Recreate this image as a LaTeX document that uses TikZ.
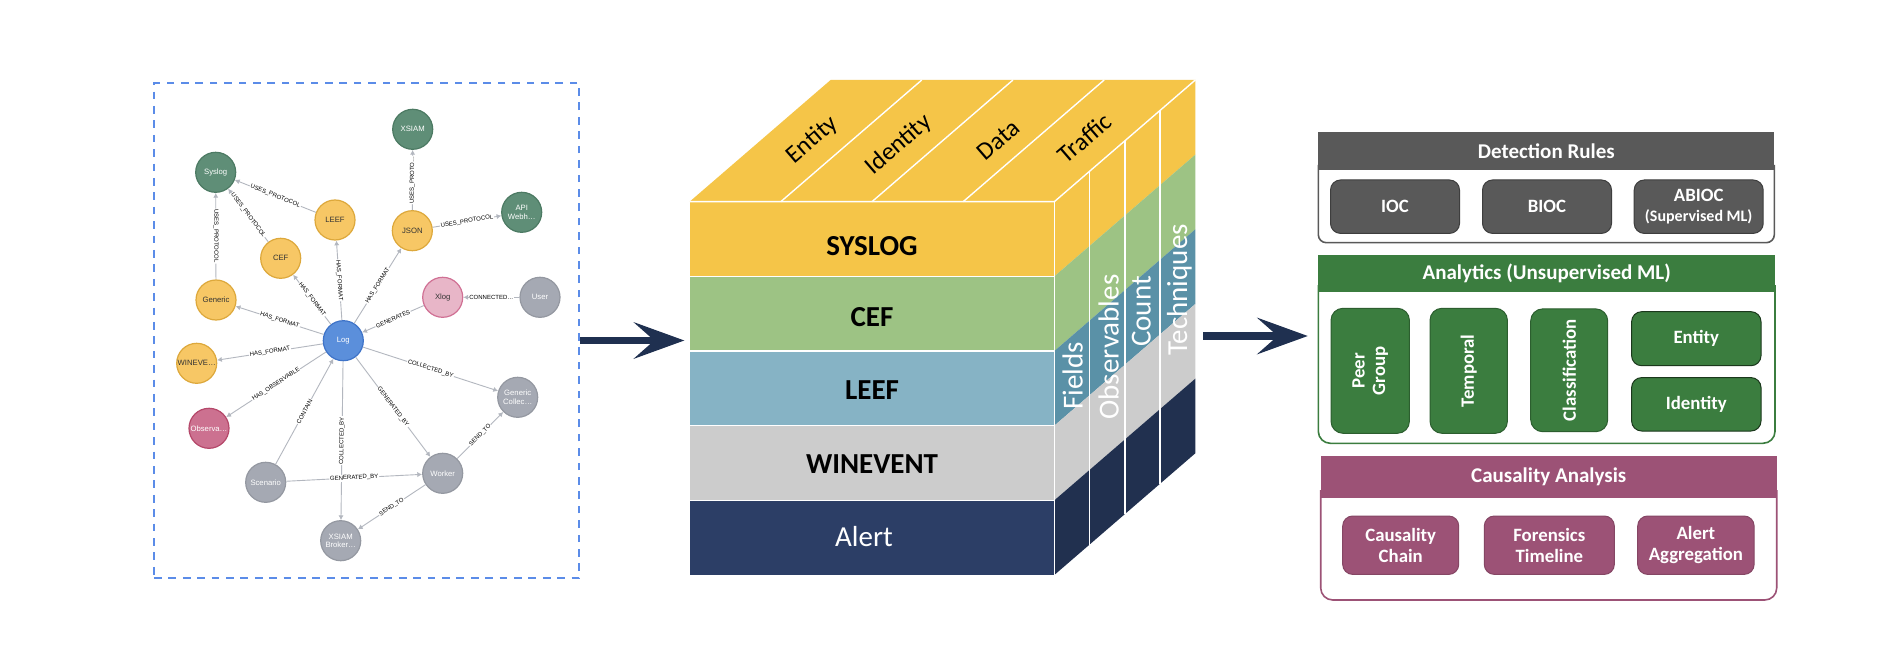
\documentclass[tikz,border=0pt]{standalone}
\usepackage{fontspec}
\setmainfont{Carlito}
\newfontfamily\graphfont{Liberation Sans}
\usetikzlibrary{arrows.meta}

\definecolor{frameblue}{HTML}{5B8CE8}
\definecolor{edgegray}{HTML}{B3B7BF}
\definecolor{textdark}{HTML}{333333}
\definecolor{nodegreen}{HTML}{5F8E77}
\definecolor{nodegreenline}{HTML}{4C7A63}
\definecolor{nodeyellow}{HTML}{F7C765}
\definecolor{nodeyellowline}{HTML}{DDA83B}
\definecolor{nodeblue}{HTML}{5B8FDB}
\definecolor{nodeblueline}{HTML}{3E73C8}
\definecolor{nodepink}{HTML}{E8B6C8}
\definecolor{nodepinkline}{HTML}{D07094}
\definecolor{nodegray}{HTML}{A5A9B3}
\definecolor{nodegrayline}{HTML}{9498A1}
\definecolor{nodered}{HTML}{CC7190}
\definecolor{noderedline}{HTML}{B5486A}
\definecolor{fmtyellow}{HTML}{F5C548}
\definecolor{fmtgreen}{HTML}{9DC384}
\definecolor{fmtblue}{HTML}{86B3C5}
\definecolor{fmtblueside}{HTML}{5A91A7}
\definecolor{fmtgray}{HTML}{CCCCCC}
\definecolor{fmtnavy}{HTML}{2C3E66}
\definecolor{fmtnavyside}{HTML}{21304F}
\definecolor{arrownavy}{HTML}{1F3050}
\definecolor{rulesgray}{HTML}{595959}
\definecolor{analyticsgreen}{HTML}{3B7D3F}
\definecolor{causalplum}{HTML}{9C5276}

\begin{document}
\begin{tikzpicture}[
		x=0.5pt, y=-0.5pt,
		gnode/.style={circle, draw, line width=0.6pt, minimum size=20pt, inner sep=0pt, align=center,
				font=\graphfont\fontsize{3.85}{4.2}\selectfont},
		protocol/.style={gnode, fill=nodegreen, draw=nodegreenline, text=white},
		format/.style={gnode, fill=nodeyellow, draw=nodeyellowline, text=textdark},
		logn/.style={gnode, fill=nodeblue, draw=nodeblueline, text=white},
		source/.style={gnode, fill=nodepink, draw=nodepinkline, text=textdark},
		actor/.style={gnode, fill=nodegray, draw=nodegrayline, text=white},
		observable/.style={gnode, fill=nodered, draw=noderedline, text=white},
		rel/.style={draw=edgegray, line width=0.45pt, -{Latex[length=2.4pt,width=2.6pt]}},
		rellabel/.style={sloped, midway, fill=white, inner sep=0.4pt, text=black,
				font=\graphfont\fontsize{3}{3.5}\selectfont},
		bigarrow/.style={draw=arrownavy, line width=3.9pt,
				-{Stealth[length=25.5pt,width=18.5pt,inset=10.5pt,line width=0pt]}},
		cubeline/.style={draw=white, line width=0.7pt},
		rowlabel/.style={font=\bfseries\fontsize{14.5}{17}\selectfont},
		toplabel/.style={font=\fontsize{12.5}{15}\selectfont, rotate=40.8},
		sidelabel/.style={font=\fontsize{14.5}{17}\selectfont, text=white, rotate=90},
		panelhead/.style={text=white, inner sep=0pt, font=\bfseries\fontsize{10.5}{12}\selectfont},
		panelbox/.style={rounded corners=5pt, text=white, align=center, inner sep=1pt, line width=0.5pt,
				font=\bfseries\fontsize{9.4}{10.3}\selectfont}
	]
	\useasboundingbox (0,0) rectangle (1904,652);
	\fill[white] (0,0) rectangle (1904,652);

	% graph of log formats
	\node[draw=frameblue, line width=1pt, dash pattern=on 3.85pt off 3.35pt,
		minimum width=212.5pt, minimum height=247.5pt] (graphframe) at (366.5,330.5) {};
	\node[protocol] (syslog) at (215.7,172.3) {Syslog};
	\node[protocol] (xsiam) at (412.7,129.3) {XSIAM};
	\node[protocol] (api) at (521.7,212.3) {API\\Webh…};
	\node[format] (leef) at (335,220) {LEEF};
	\node[format] (json) at (412.3,230.7) {JSON};
	\node[format] (cef) at (280.7,258.3) {CEF};
	\node[format] (generic) at (216,300) {Generic};
	\node[format] (winevent) at (196.7,363.3) {WINEVE…};
	\node[source] (xlog) at (442.7,297.3) {Xlog};
	\node[actor] (user) at (540,297.3) {User};
	\node[logn] (log) at (343.3,340.7) {Log};
	\node[observable] (observa) at (209,428.3) {Observa…};
	\node[actor] (collector) at (517.7,397.3) {Generic\\Collec…};
	\node[actor] (scenario) at (265.7,482.3) {Scenario};
	\node[actor] (worker) at (442.7,473.3) {Worker};
	\node[actor] (broker) at (340.7,540.7) {XSIAM\\Broker…};

	\foreach \from/\to/\txt in {
			leef/syslog/USES\_PROTOCOL, cef/syslog/USES\_PROTOCOL, generic/syslog/USES\_PROTOCOL,
			json/xsiam/USES\_PROTO…, json/api/USES\_PROTOCOL,
			log/generic/HAS\_FORMAT, log/cef/HAS\_FORMAT, log/leef/HAS\_FORMAT, log/json/HAS\_FORMAT,
			log/winevent/HAS\_FORMAT, log/observa/HAS\_OBSERVABLE,
			xlog/log/GENERATES, user/xlog/CONNECTED…,
			log/collector/COLLECTED\_BY, log/worker/GENERATED\_BY, log/broker/COLLECTED\_BY,
			scenario/log/CONTAIN, scenario/worker/GENERATED\_BY,
			worker/collector/SEND\_TO, worker/broker/SEND\_TO}
		\draw[rel] (\from) -- node[rellabel] {\txt} (\to);

	% format cube
	\fill[fmtyellow] (689.6,201.7) -- (1054.3,201.7) -- ++(141,-121.7) -- (830.6,80) -- cycle;
	\foreach \row/\front/\side in {0/fmtyellow/fmtyellow, 1/fmtgreen/fmtgreen, 2/fmtblue/fmtblueside,
			3/fmtgray/fmtgray, 4/fmtnavy/fmtnavyside} {
			\fill[\front] (689.6,{201.7+74.66*\row}) rectangle (1054.3,{201.7+74.66*(\row+1)});
			\fill[\side] (1054.3,{201.7+74.66*\row}) -- ++(141,-121.7) -- ++(0,74.66)
			-- ++(-141,121.7) -- cycle;
		}
	\foreach \row in {1,...,4}
	\draw[cubeline] (689.6,{201.7+74.66*\row}) -- (1054.3,{201.7+74.66*\row});
	\foreach \k in {1,2,3} {
			\draw[cubeline] ({689.6+91.175*\k},201.7) -- ++(141,-121.7);
			\draw[cubeline] ({1054.3+35.25*\k},{201.7-30.425*\k}) -- ++(0,373.3);
		}
	\draw[cubeline] (689.6,201.7) -- (1054.3,201.7) -- ++(141,-121.7);
	\draw[cubeline] (1054.3,201.7) -- (1054.3,575);

	\node[rowlabel] (syslogrow) at (872,245.7) {SYSLOG};
	\node[rowlabel] (cefrow) at (872,316.7) {CEF};
	\node[rowlabel] (leefrow) at (872,390) {LEEF};
	\node[rowlabel] (wineventrow) at (872,464.3) {WINEVENT};
	\node[rowlabel, text=white, font=\fontsize{14.5}{17}\selectfont] (alertrow) at (864,536.7) {Alert};

	\node[toplabel] (entitycol) at (812.6,140) {Entity};
	\node[toplabel] (identitycol) at (898.7,145) {Identity};
	\node[toplabel] (datacol) at (998.5,140) {Data};
	\node[toplabel] (trafficcol) at (1084.6,138.3) {Traffic};

	\node[sidelabel] (fieldsdepth) at (1072.6,376) {Fields};
	\node[sidelabel] (observablesdepth) at (1108.7,347) {Observables};
	\node[sidelabel] (countdepth) at (1141.4,311.5) {Count};
	\node[sidelabel] (techniquesdepth) at (1179.3,290) {Techniques};

	\coordinate (cubein) at (684.3,340.5);
	\coordinate (cubeout) at (1203.3,336);
	\coordinate (panelsin) at (1307.7,336);
	\draw[bigarrow] ([yshift=-5pt]graphframe.east) -- (cubein);
	\draw[bigarrow] (cubeout) -- (panelsin);

	% detection panels
	\draw[rulesgray, line width=0.8pt, rounded corners=4pt]
	(1318.3,165) -- (1318.3,242.7) -- (1774.3,242.7) -- (1774.3,165);
	\node[panelhead, fill=rulesgray, minimum width=228pt, minimum height=19.2pt] (ruleshead)
	at (1546.3,150.85) {Detection Rules};
	\node[panelbox, fill=rulesgray, draw=rulesgray!70!black, minimum width=64.5pt, minimum height=26.7pt]
	(ioc) at (1395,206.7) {IOC};
	\node[panelbox, fill=rulesgray, draw=rulesgray!70!black, minimum width=64.5pt, minimum height=26.7pt]
	(bioc) at (1547,206.7) {BIOC};
	\node[panelbox, fill=rulesgray, draw=rulesgray!70!black, minimum width=64.5pt, minimum height=26.7pt]
	(abioc) at (1698.7,206.7) {ABIOC\\{\fontsize{8}{9}\selectfont (Supervised ML)}};

	\draw[analyticsgreen, line width=0.8pt, rounded corners=6pt]
	(1318.3,285) -- (1318.3,443.3) -- (1775,443.3) -- (1775,285);
	\node[panelhead, fill=analyticsgreen, minimum width=228.4pt, minimum height=18.7pt] (analyticshead)
	at (1546.7,273.65) {Analytics (Unsupervised ML)};
	\node[panelbox, fill=analyticsgreen, draw=analyticsgreen!75!black, rounded corners=6pt, rotate=90,
		minimum width=62.5pt, minimum height=39.2pt] (peergroup) at (1370.2,370.8) {Peer\\Group};
	\node[panelbox, fill=analyticsgreen, draw=analyticsgreen!75!black, rounded corners=6pt, rotate=90,
		minimum width=62.5pt, minimum height=38.7pt] (temporal) at (1468.7,370.8) {Temporal};
	\node[panelbox, fill=analyticsgreen, draw=analyticsgreen!75!black, rounded corners=6pt, rotate=90,
		minimum width=61.4pt, minimum height=38.5pt] (classification) at (1569.2,370.3) {Classification};
	\node[panelbox, fill=analyticsgreen, draw=analyticsgreen!45!black, minimum width=64.7pt, minimum height=27pt]
	(entitymodel) at (1696.3,338.7) {Entity};
	\node[panelbox, fill=analyticsgreen, draw=analyticsgreen!45!black, minimum width=64.7pt, minimum height=26.7pt]
	(identitymodel) at (1696.3,404.3) {Identity};

	\draw[causalplum, line width=0.8pt, rounded corners=6pt]
	(1320.7,490) -- (1320.7,600) -- (1776.7,600) -- (1776.7,490);
	\node[panelhead, fill=causalplum, minimum width=228pt, minimum height=21pt] (causalhead)
	at (1548.7,476.7) {Causality Analysis};
	\node[panelbox, fill=causalplum, draw=causalplum!85!black, minimum width=58pt, minimum height=29.2pt]
	(chain) at (1400.7,545.2) {Causality\\Chain};
	\node[panelbox, fill=causalplum, draw=causalplum!85!black, minimum width=65pt, minimum height=29.2pt]
	(timeline) at (1549.3,545.2) {Forensics\\Timeline};
	\node[panelbox, fill=causalplum, draw=causalplum!85!black, minimum width=58.2pt, minimum height=29.2pt]
	(aggregation) at (1695.9,545.2) {Alert\\Aggregation};
\end{tikzpicture}
\end{document}
